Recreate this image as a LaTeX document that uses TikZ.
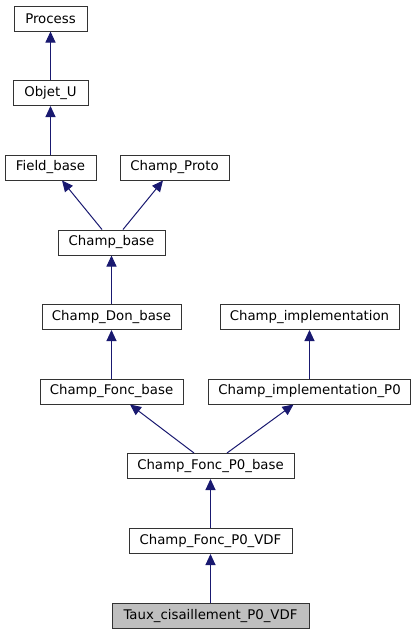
\documentclass[tikz,border=0pt]{standalone}
\usepackage{fontspec}
\setmainfont{DejaVu Sans}
\usetikzlibrary{arrows.meta}
\definecolor{edgeblue}{HTML}{191970}
\definecolor{leafgray}{HTML}{BFBFBF}
\begin{document}
\begin{tikzpicture}[x=1pt,y=-1pt]

    \tikzset{cls/.style={%
      draw=black!80,%
      line width=1pt,%
      rectangle,%
      minimum height=25pt,%
      inner xsep=8pt,%
      inner ysep=0pt,%
      font=\fontsize{13.3}{16}\selectfont}%
    };

    \tikzset{leaf/.style={cls, fill=leafgray}};
    \tikzset{inherit/.style={draw=edgeblue, line width=1pt, -{Triangle[length=11pt,width=10pt]}}};

    \useasboundingbox (0,0) rectangle (416,635);

    %%%%%%%%%%%%%%%
    %   classes   %
    %%%%%%%%%%%%%%%
    \path (50.5, 18.5) node [cls, minimum width=73pt] (proc) {Process};
    \path (50.5, 93) node [cls, minimum width=75pt] (obj) {Objet\_U};
    \path (50.5, 167.5) node [cls, minimum width=91pt] (fbase) {Field\_base};
    \path (174.5, 167.5) node [cls, minimum width=109pt] (proto) {Champ\_Proto};
    \path (111.5, 242.5) node [cls, minimum width=107pt] (cbase) {Champ\_base};
    \path (111.5, 317) node [cls, minimum width=139pt] (cdon) {Champ\_Don\_base};
    \path (309.5, 317) node [cls, minimum width=179pt] (cimpl) {Champ\_implementation};
    \path (111.5, 391.5) node [cls, minimum width=143pt] (cfonc) {Champ\_Fonc\_base};
    \path (309.5, 391.5) node [cls, minimum width=202pt] (cimplp) {Champ\_implementation\_P0};
    \path (210.5, 466) node [cls, minimum width=167pt] (cfpbase) {Champ\_Fonc\_P0\_base};
    \path (210.5, 541) node [cls, minimum width=163pt] (cfpvdf) {Champ\_Fonc\_P0\_VDF};
    \path (210.5, 616) node [leaf, minimum width=197pt] (taux) {Taux\_cisaillement\_P0\_VDF};

    %%%%%%%%%%%%%%%
    % inheritance %
    %%%%%%%%%%%%%%%
    \draw [inherit] (obj) -- (proc);
    \draw [inherit] (fbase) -- (obj);
    \draw [inherit] ([xshift=-9.5pt]cbase.north) -- ([xshift=11.5pt]fbase.south);
    \draw [inherit] ([xshift=11.5pt]cbase.north) -- ([xshift=-11.5pt]proto.south);
    \draw [inherit] (cdon) -- (cbase);
    \draw [inherit] (cfonc) -- (cdon);
    \draw [inherit] (cimplp) -- (cimpl);
    \draw [inherit] ([xshift=-16.5pt]cfpbase.north) -- ([xshift=18.5pt]cfonc.south);
    \draw [inherit] ([xshift=16.5pt]cfpbase.north) -- ([xshift=-16pt]cimplp.south);
    \draw [inherit] (cfpvdf) -- (cfpbase);
    \draw [inherit] (taux) -- (cfpvdf);

\end{tikzpicture}
\end{document}
